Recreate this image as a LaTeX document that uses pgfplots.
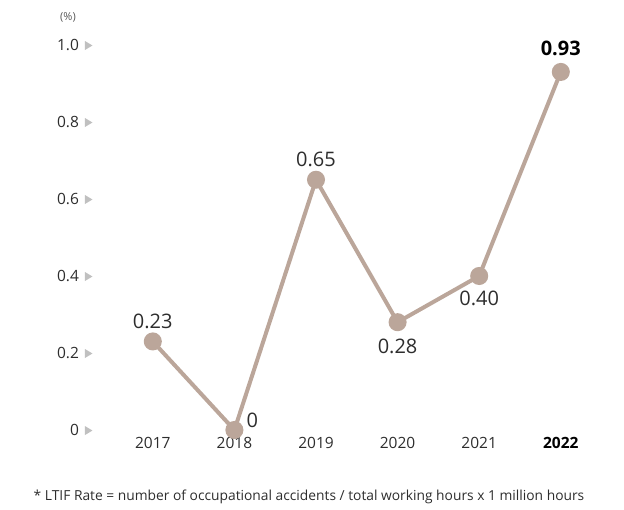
\documentclass[border=0pt]{standalone}
\usepackage{pgfplots}
\pgfplotsset{compat=1.18}
\usepackage{fontspec}
\setmainfont{Open Sans}
\definecolor{taupe}{RGB}{187,166,154}
\definecolor{trigray}{RGB}{192,192,192}
\definecolor{txt}{RGB}{45,45,45}
\newcommand\tri{\hspace{6pt}\tikz[baseline={(0,-0.5pt)}]\fill[trigray] (0,0) -- (0,9pt) -- (7.5pt,4.5pt) -- cycle;}
\begin{document}
\begin{tikzpicture}
\begin{axis}[
  name=ax, anchor=south west, at={(0pt,0pt)},
  scale only axis, width=489.6pt, height=385pt,
  xmin=-0.5, xmax=5.5, ymin=0, ymax=1,
  axis line style={draw=none}, major tick length=0pt,
  clip=false,
  xtick={0,1,2,3,4,5},
  xticklabels={2017,2018,2019,2020,2021,{\color{black}\bfseries 2022}},
  xticklabel style={font=\fontsize{15.5}{17}\selectfont, text=txt, yshift=-4pt},
  ytick={0,0.2,0.4,0.6,0.8,1.0},
  yticklabels={0\tri,0.2\tri,0.4\tri,0.6\tri,0.8\tri,1.0\tri},
  yticklabel style={font=\fontsize{15.5}{17}\selectfont, text=txt, anchor=east, xshift=-16pt},
]
\addplot[taupe, line width=4pt, mark=*, mark size=7pt,
  mark options={fill=taupe, draw=none}]
  coordinates {(0,0.23) (1,0) (2,0.65) (3,0.28) (4,0.40) (5,0.93)};
\begin{scope}[every node/.style={font=\fontsize{20}{22}\selectfont, text=txt}]
\node at (axis cs:0,0.23) [yshift=20pt] {0.23};
\node at (axis cs:1,0) [xshift=18pt, yshift=10pt] {0};
\node at (axis cs:2,0.65) [yshift=20pt] {0.65};
\node at (axis cs:3,0.28) [yshift=-24pt] {0.28};
\node at (axis cs:4,0.40) [yshift=-22pt] {0.40};
\node at (axis cs:5,0.93) [yshift=24pt, text=black, font=\fontsize{20}{22}\selectfont\bfseries] {0.93};
\end{scope}
\end{axis}
\node[font=\fontsize{11}{12}\selectfont, text=black!65] at (-44pt,413pt) {(\%)};
\node[font=\fontsize{13.8}{15}\selectfont, text=txt] at (197pt,-67pt) {* LTIF Rate = number of occupational accidents / total working hours x 1 million hours};
\pgfresetboundingbox
\path[use as bounding box] (-112pt,-80pt) rectangle (512pt,430pt);
\end{tikzpicture}
\end{document}
